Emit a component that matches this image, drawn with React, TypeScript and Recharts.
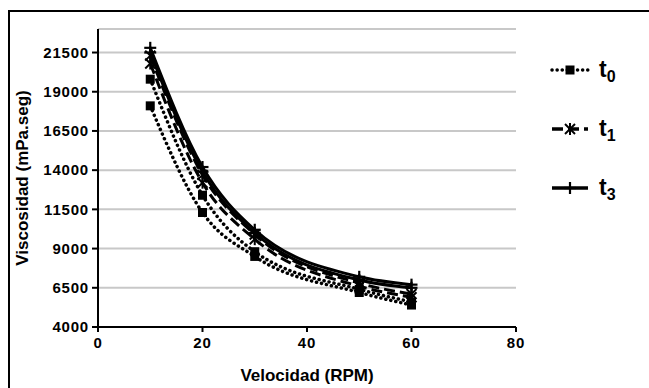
import { LineChart, Line, XAxis, YAxis, CartesianGrid } from "recharts";

const rpm = [10, 20, 30, 50, 60];
// two replicate curves per time
const t0a = [18100, 11300, 8500, 6200, 5400];
const t0b = [19800, 12400, 8800, 6400, 5600];
const t1a = [20800, 13200, 9600, 6600, 5900];
const t1b = [21300, 13700, 9900, 6800, 6100];
const t3a = [21500, 13900, 10000, 7000, 6500];
const t3b = [21800, 14200, 10200, 7200, 6700];

const yTicks = [4000, 6500, 9000, 11500, 14000, 16500, 19000, 21500];
const xTicks = [0, 20, 40, 60, 80];
const legendItems = [
  { name: "t", sub: "0", kind: "square", dash: "0.1 5" },
  { name: "t", sub: "1", kind: "star", dash: "11 5" },
  { name: "t", sub: "3", kind: "plus", dash: "" },
];

const data = rpm.map((x, i) => ({
  x,
  t0a: t0a[i],
  t0b: t0b[i],
  t1a: t1a[i],
  t1b: t1b[i],
  t3a: t3a[i],
  t3b: t3b[i],
}));

const font = "Arial, 'Liberation Sans', sans-serif";

function Marker({ kind, cx, cy }: { kind: string; cx: number; cy: number }) {
  if (kind === "square") {
    return <rect x={cx - 4.5} y={cy - 4.5} width={9} height={9} fill="#000" />;
  }
  if (kind === "star") {
    const r = 5;
    return (
      <g stroke="#000" strokeWidth={2}>
        <line x1={cx - r} y1={cy - r} x2={cx + r} y2={cy + r} />
        <line x1={cx - r} y1={cy + r} x2={cx + r} y2={cy - r} />
        <line x1={cx} y1={cy - r - 1} x2={cx} y2={cy + r + 1} />
      </g>
    );
  }
  const r = 6;
  return (
    <g stroke="#000" strokeWidth={2.2}>
      <line x1={cx - r} y1={cy} x2={cx + r} y2={cy} />
      <line x1={cx} y1={cy - r} x2={cx} y2={cy + r} />
    </g>
  );
}

const dotFor = (kind: string) => (p: any) => (
  <Marker key={`${kind}-${p.index}-${p.dataKey}`} kind={kind} cx={p.cx} cy={p.cy} />
);

function LegendBox() {
  return (
    <svg width={100} height={170} style={{ position: "absolute", left: 544, top: 45 }}>
      {legendItems.map((it, i) => {
        const y = 25 + i * 59;
        return (
          <g key={i}>
            <line
              x1={8}
              x2={44}
              y1={y}
              y2={y}
              stroke="#000"
              strokeWidth={3.5}
              strokeLinecap={it.dash === "0.1 5" ? "round" : "butt"}
              strokeDasharray={it.dash || undefined}
            />
            <Marker kind={it.kind} cx={26} cy={y} />
            <text x={55} y={y + 7} fontFamily={font} fontSize={23} fontWeight={700} fill="#000">
              {it.name}
              <tspan fontSize={16} dy={5}>
                {it.sub}
              </tspan>
            </text>
          </g>
        );
      })}
    </svg>
  );
}

const tickStyle = { fontSize: 15, fontWeight: 700, fill: "#000", fontFamily: font, letterSpacing: 0.8 };

export default function App() {
  return (
    <div style={{ position: "absolute", left: 0, top: 0, width: 649, height: 388, background: "#fff", overflow: "hidden" }}>
      <div
        style={{
          position: "absolute",
          left: 8,
          top: 10,
          width: 700,
          height: 420,
          borderTop: "2px solid #000",
          borderLeft: "2px solid #000",
        }}
      />
      <div style={{ position: "absolute", left: 0, top: 0 }}>
        <LineChart width={649} height={388} data={data} margin={{ top: 29, right: 133, bottom: 0, left: 0 }}>
          <CartesianGrid horizontal vertical={false} stroke="#c8c8c8" strokeWidth={2} />
          <XAxis
            dataKey="x"
            type="number"
            domain={[0, 80]}
            ticks={xTicks}
            height={61}
            stroke="#000"
            strokeWidth={2}
            tickSize={5}
            tickMargin={5}
            tick={tickStyle}
            label={{
              value: "Velocidad (RPM)",
              position: "insideBottom",
              offset: 7,
              fontSize: 17,
              fontWeight: 700,
              fill: "#000",
              fontFamily: font,
            }}
          />
          <YAxis
            type="number"
            domain={[4000, 23000]}
            ticks={yTicks}
            width={98}
            stroke="#000"
            strokeWidth={2}
            tickSize={6}
            tickMargin={3}
            interval={0}
            tick={tickStyle}
            label={{
              value: "Viscosidad (mPa.seg)",
              angle: -90,
              position: "insideLeft",
              offset: 22,
              fontSize: 17,
              fontWeight: 700,
              fill: "#000",
              fontFamily: font,
              style: { textAnchor: "middle" },
            }}
          />
          <Line type="monotone" dataKey="t0a" stroke="#000" strokeWidth={3.5} strokeDasharray="0.1 5" strokeLinecap="round" dot={dotFor("square")} isAnimationActive={false} />
          <Line type="monotone" dataKey="t0b" stroke="#000" strokeWidth={3.5} strokeDasharray="0.1 5" strokeLinecap="round" dot={dotFor("square")} isAnimationActive={false} />
          <Line type="monotone" dataKey="t1a" stroke="#000" strokeWidth={3} strokeDasharray="11 5" dot={dotFor("star")} isAnimationActive={false} />
          <Line type="monotone" dataKey="t1b" stroke="#000" strokeWidth={3} strokeDasharray="11 5" dot={dotFor("star")} isAnimationActive={false} />
          <Line type="monotone" dataKey="t3a" stroke="#000" strokeWidth={3} dot={dotFor("plus")} isAnimationActive={false} />
          <Line type="monotone" dataKey="t3b" stroke="#000" strokeWidth={3} dot={dotFor("plus")} isAnimationActive={false} />
        </LineChart>
      </div>
      <LegendBox />
    </div>
  );
}
